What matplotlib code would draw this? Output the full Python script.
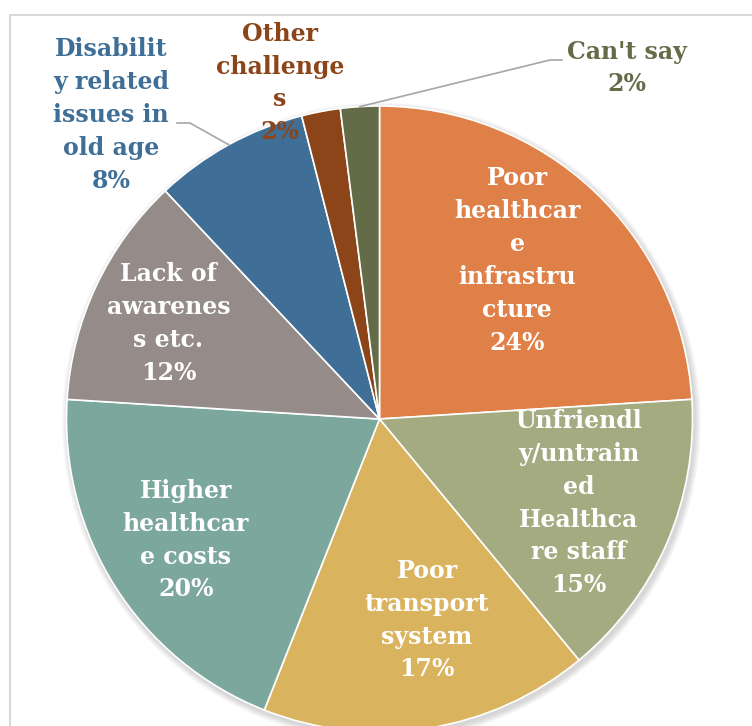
import numpy as np
import matplotlib.pyplot as plt
import matplotlib.patches as patches

# share of respondents per challenge, clockwise from 12 o'clock
labels = ["Poor\nhealthcar\ne\ninfrastru\ncture",
          "Unfriendl\ny/untrain\ned\nHealthca\nre staff",
          "Poor\ntransport\nsystem",
          "Higher\nhealthcar\ne costs",
          "Lack of\nawarenes\ns etc.",
          "Disabilit\ny related\nissues in\nold age",
          "Other\nchallenge\ns",
          "Can't say"]
values = [24, 15, 17, 20, 12, 8, 2, 2]
colors = ["#DE8048", "#A4AB80", "#D9B35D", "#7BA79C",
          "#958B88", "#3F6E96", "#8C4419", "#636B47"]

# inside labels: (distance as fraction of radius, angle shift in degrees)
inside = {0: (0.67, 2.2), 1: (0.69, 0.5), 2: (0.66, 4.3),
          3: (0.73, -0.4), 4: (0.74, 0.9)}
outside = {5: (111, 115), 6: (280, 83), 7: (627, 68)}   # pixel centres
leaders = {5: [(177, 123), (190, 123)], 7: [(562, 60), (550, 60)]}

W, H = 752, 726
cx, cy, R = 379.5, 419, 313

fig = plt.figure(figsize=(W / 100, H / 100), dpi=100)
ax = fig.add_axes([0, 0, 1, 1])

def py(y):
    return H - y

# soft shadow under the pie
for k in range(8):
    ax.add_patch(patches.Circle((cx + 2, py(cy) - 3), R + 1 + k * 0.8,
                                color="black", alpha=0.018, lw=0, zorder=1))

wedges, _ = ax.pie(values, colors=colors, startangle=90, counterclock=False,
                   center=(cx, py(cy)), radius=R, frame=True,
                   wedgeprops=dict(edgecolor="white", linewidth=1.2, zorder=2))
ax.set_xlim(0, W)
ax.set_ylim(0, H)
ax.set_aspect("equal")
ax.axis("off")

# chart area border (only top and left fall inside the image)
ax.plot([9.5, 9.5, W + 60], [-60, py(14.5), py(14.5)], color="#D9D9D9",
        lw=1.5, zorder=0)

font = dict(family="DejaVu Serif", weight="bold", fontsize=17,
            ha="center", va="center", linespacing=1.47)

for i, w in enumerate(wedges):
    mid = (w.theta1 + w.theta2) / 2
    txt = f"{labels[i]}\n{values[i]}%"
    if i in inside:
        frac, shift = inside[i]
        a = np.deg2rad(mid + shift)
        ax.text(cx + frac * R * np.cos(a), py(cy) + frac * R * np.sin(a), txt,
                color="white", zorder=4, **font)
    else:
        x, y = outside[i]
        ax.text(x, py(y), txt, color=colors[i], zorder=4, **font)
    if i in leaders:
        a = np.deg2rad(mid)
        pts = [(x0, py(y0)) for x0, y0 in leaders[i]]
        pts.append((cx + R * np.cos(a), py(cy) + R * np.sin(a)))
        ax.plot([p[0] for p in pts], [p[1] for p in pts], color="#A6A6A6",
                lw=1.2, zorder=3)

fig.savefig("out.png", dpi=100)
